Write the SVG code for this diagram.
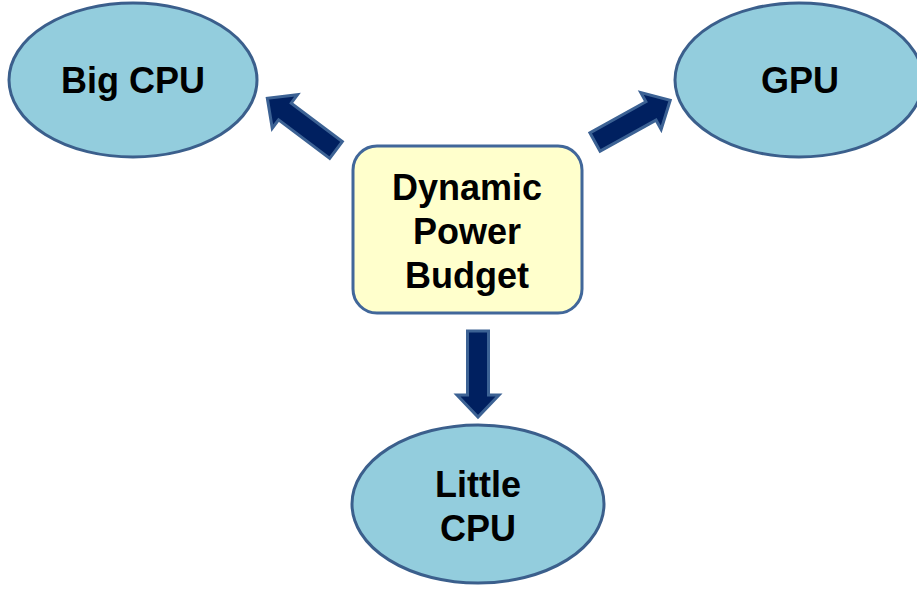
<svg xmlns="http://www.w3.org/2000/svg" width="917" height="590" viewBox="0 0 917 590">
<style>
.ell{fill:#93cddd;stroke:#3b5f8c;stroke-width:3}
.box{fill:#ffffcc;stroke:#41679a;stroke-width:3}
.t{font-family:"Liberation Sans",Arial,sans-serif;font-weight:bold;font-size:36px;fill:#000;text-anchor:middle}
.arr{fill:#002060;stroke:#3c6294;stroke-width:3;stroke-linejoin:miter}
</style>
<defs>
<path id="arrow" d="M0,-10.5 L64,-10.5 L64,-21 L86,0 L64,21 L64,10.5 L0,10.5 Z"/>
</defs>
<g id="big-cpu">
<ellipse class="ell" cx="133" cy="80" rx="124" ry="77"/>
<text class="t" x="133" y="93">Big CPU</text>
</g>
<g id="gpu">
<ellipse class="ell" cx="799" cy="80" rx="124" ry="77"/>
<text class="t" x="800" y="93">GPU</text>
</g>
<g id="little-cpu">
<ellipse class="ell" cx="478" cy="504" rx="126" ry="79"/>
<text class="t" x="478" y="497">Little</text>
<text class="t" x="478" y="541">CPU</text>
</g>
<g id="budget">
<rect class="box" x="353" y="146" width="229" height="167" rx="24"/>
<text class="t" x="467" y="200">Dynamic</text>
<text class="t" x="467" y="244">Power</text>
<text class="t" x="467" y="288">Budget</text>
</g>
<g id="connectors">
<use href="#arrow" class="arr" transform="translate(336,150) rotate(217)"/>
<use href="#arrow" class="arr" transform="translate(595,142) rotate(-29)"/>
<use href="#arrow" class="arr" transform="translate(478,331) rotate(90)"/>
</g>
</svg>
